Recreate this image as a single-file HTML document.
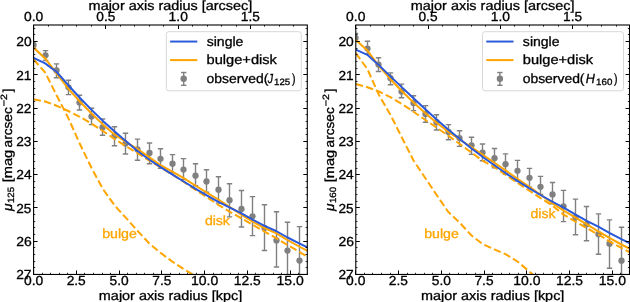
<!DOCTYPE html>
<html><head><meta charset="utf-8"><style>
html,body{margin:0;padding:0;background:#fff;}
svg{display:block;}
.gt{will-change:transform;}
text{font-family:"Liberation Sans",sans-serif;text-rendering:geometricPrecision;}
</style></head><body>
<div class="gt"><svg width="630" height="302" viewBox="0 0 630 302" font-family="Liberation Sans, sans-serif">
<rect width="630" height="302" fill="#fff"/>
<clipPath id="clip0"><rect x="33.6" y="25.0" width="273.7" height="249.45"/></clipPath>
<g clip-path="url(#clip0)" fill="none">
<line x1="33.50" y1="41.60" x2="33.50" y2="48.20" stroke="#808080" stroke-width="1.4"/>
<line x1="30.80" y1="41.60" x2="36.20" y2="41.60" stroke="#808080" stroke-width="1.4"/>
<line x1="30.80" y1="48.20" x2="36.20" y2="48.20" stroke="#808080" stroke-width="1.4"/>
<circle cx="33.50" cy="44.90" r="3.15" fill="#808080"/>
<line x1="45.50" y1="50.60" x2="45.50" y2="60.50" stroke="#808080" stroke-width="1.4"/>
<line x1="42.80" y1="50.60" x2="48.20" y2="50.60" stroke="#808080" stroke-width="1.4"/>
<line x1="42.80" y1="60.50" x2="48.20" y2="60.50" stroke="#808080" stroke-width="1.4"/>
<circle cx="45.50" cy="55.30" r="3.15" fill="#808080"/>
<line x1="56.50" y1="63.90" x2="56.50" y2="77.80" stroke="#808080" stroke-width="1.4"/>
<line x1="53.80" y1="63.90" x2="59.20" y2="63.90" stroke="#808080" stroke-width="1.4"/>
<line x1="53.80" y1="77.80" x2="59.20" y2="77.80" stroke="#808080" stroke-width="1.4"/>
<circle cx="56.50" cy="70.50" r="3.15" fill="#808080"/>
<line x1="68.50" y1="80.20" x2="68.50" y2="94.60" stroke="#808080" stroke-width="1.4"/>
<line x1="65.80" y1="80.20" x2="71.20" y2="80.20" stroke="#808080" stroke-width="1.4"/>
<line x1="65.80" y1="94.60" x2="71.20" y2="94.60" stroke="#808080" stroke-width="1.4"/>
<circle cx="68.50" cy="87.30" r="3.15" fill="#808080"/>
<line x1="79.50" y1="95.30" x2="79.50" y2="110.00" stroke="#808080" stroke-width="1.4"/>
<line x1="76.80" y1="95.30" x2="82.20" y2="95.30" stroke="#808080" stroke-width="1.4"/>
<line x1="76.80" y1="110.00" x2="82.20" y2="110.00" stroke="#808080" stroke-width="1.4"/>
<circle cx="79.50" cy="102.60" r="3.15" fill="#808080"/>
<line x1="91.50" y1="108.30" x2="91.50" y2="124.60" stroke="#808080" stroke-width="1.4"/>
<line x1="88.80" y1="108.30" x2="94.20" y2="108.30" stroke="#808080" stroke-width="1.4"/>
<line x1="88.80" y1="124.60" x2="94.20" y2="124.60" stroke="#808080" stroke-width="1.4"/>
<circle cx="91.50" cy="116.40" r="3.15" fill="#808080"/>
<line x1="102.50" y1="119.00" x2="102.50" y2="135.30" stroke="#808080" stroke-width="1.4"/>
<line x1="99.80" y1="119.00" x2="105.20" y2="119.00" stroke="#808080" stroke-width="1.4"/>
<line x1="99.80" y1="135.30" x2="105.20" y2="135.30" stroke="#808080" stroke-width="1.4"/>
<circle cx="102.50" cy="127.50" r="3.15" fill="#808080"/>
<line x1="114.50" y1="126.70" x2="114.50" y2="145.70" stroke="#808080" stroke-width="1.4"/>
<line x1="111.80" y1="126.70" x2="117.20" y2="126.70" stroke="#808080" stroke-width="1.4"/>
<line x1="111.80" y1="145.70" x2="117.20" y2="145.70" stroke="#808080" stroke-width="1.4"/>
<circle cx="114.50" cy="136.00" r="3.15" fill="#808080"/>
<line x1="125.50" y1="133.20" x2="125.50" y2="154.00" stroke="#808080" stroke-width="1.4"/>
<line x1="122.80" y1="133.20" x2="128.20" y2="133.20" stroke="#808080" stroke-width="1.4"/>
<line x1="122.80" y1="154.00" x2="128.20" y2="154.00" stroke="#808080" stroke-width="1.4"/>
<circle cx="125.50" cy="143.60" r="3.15" fill="#808080"/>
<line x1="137.50" y1="139.10" x2="137.50" y2="160.20" stroke="#808080" stroke-width="1.4"/>
<line x1="134.80" y1="139.10" x2="140.20" y2="139.10" stroke="#808080" stroke-width="1.4"/>
<line x1="134.80" y1="160.20" x2="140.20" y2="160.20" stroke="#808080" stroke-width="1.4"/>
<circle cx="137.50" cy="149.40" r="3.15" fill="#808080"/>
<line x1="149.50" y1="143.00" x2="149.50" y2="163.80" stroke="#808080" stroke-width="1.4"/>
<line x1="146.80" y1="143.00" x2="152.20" y2="143.00" stroke="#808080" stroke-width="1.4"/>
<line x1="146.80" y1="163.80" x2="152.20" y2="163.80" stroke="#808080" stroke-width="1.4"/>
<circle cx="149.50" cy="153.00" r="3.15" fill="#808080"/>
<line x1="160.50" y1="148.80" x2="160.50" y2="168.30" stroke="#808080" stroke-width="1.4"/>
<line x1="157.80" y1="148.80" x2="163.20" y2="148.80" stroke="#808080" stroke-width="1.4"/>
<line x1="157.80" y1="168.30" x2="163.20" y2="168.30" stroke="#808080" stroke-width="1.4"/>
<circle cx="160.50" cy="158.80" r="3.15" fill="#808080"/>
<line x1="172.50" y1="154.60" x2="172.50" y2="172.80" stroke="#808080" stroke-width="1.4"/>
<line x1="169.80" y1="154.60" x2="175.20" y2="154.60" stroke="#808080" stroke-width="1.4"/>
<line x1="169.80" y1="172.80" x2="175.20" y2="172.80" stroke="#808080" stroke-width="1.4"/>
<circle cx="172.50" cy="163.70" r="3.15" fill="#808080"/>
<line x1="183.50" y1="158.60" x2="183.50" y2="179.50" stroke="#808080" stroke-width="1.4"/>
<line x1="180.80" y1="158.60" x2="186.20" y2="158.60" stroke="#808080" stroke-width="1.4"/>
<line x1="180.80" y1="179.50" x2="186.20" y2="179.50" stroke="#808080" stroke-width="1.4"/>
<circle cx="183.50" cy="169.60" r="3.15" fill="#808080"/>
<line x1="195.50" y1="163.80" x2="195.50" y2="185.80" stroke="#808080" stroke-width="1.4"/>
<line x1="192.80" y1="163.80" x2="198.20" y2="163.80" stroke="#808080" stroke-width="1.4"/>
<line x1="192.80" y1="185.80" x2="198.20" y2="185.80" stroke="#808080" stroke-width="1.4"/>
<circle cx="195.50" cy="175.70" r="3.15" fill="#808080"/>
<line x1="206.50" y1="169.80" x2="206.50" y2="192.30" stroke="#808080" stroke-width="1.4"/>
<line x1="203.80" y1="169.80" x2="209.20" y2="169.80" stroke="#808080" stroke-width="1.4"/>
<line x1="203.80" y1="192.30" x2="209.20" y2="192.30" stroke="#808080" stroke-width="1.4"/>
<circle cx="206.50" cy="181.50" r="3.15" fill="#808080"/>
<line x1="218.50" y1="176.70" x2="218.50" y2="203.10" stroke="#808080" stroke-width="1.4"/>
<line x1="215.80" y1="176.70" x2="221.20" y2="176.70" stroke="#808080" stroke-width="1.4"/>
<line x1="215.80" y1="203.10" x2="221.20" y2="203.10" stroke="#808080" stroke-width="1.4"/>
<circle cx="218.50" cy="189.70" r="3.15" fill="#808080"/>
<line x1="229.50" y1="183.80" x2="229.50" y2="216.90" stroke="#808080" stroke-width="1.4"/>
<line x1="226.80" y1="183.80" x2="232.20" y2="183.80" stroke="#808080" stroke-width="1.4"/>
<line x1="226.80" y1="216.90" x2="232.20" y2="216.90" stroke="#808080" stroke-width="1.4"/>
<circle cx="229.50" cy="200.20" r="3.15" fill="#808080"/>
<line x1="241.50" y1="190.50" x2="241.50" y2="227.00" stroke="#808080" stroke-width="1.4"/>
<line x1="238.80" y1="190.50" x2="244.20" y2="190.50" stroke="#808080" stroke-width="1.4"/>
<line x1="238.80" y1="227.00" x2="244.20" y2="227.00" stroke="#808080" stroke-width="1.4"/>
<circle cx="241.50" cy="208.90" r="3.15" fill="#808080"/>
<line x1="252.50" y1="196.60" x2="252.50" y2="235.60" stroke="#808080" stroke-width="1.4"/>
<line x1="249.80" y1="196.60" x2="255.20" y2="196.60" stroke="#808080" stroke-width="1.4"/>
<line x1="249.80" y1="235.60" x2="255.20" y2="235.60" stroke="#808080" stroke-width="1.4"/>
<circle cx="252.50" cy="216.30" r="3.15" fill="#808080"/>
<line x1="264.50" y1="204.70" x2="264.50" y2="250.50" stroke="#808080" stroke-width="1.4"/>
<line x1="261.80" y1="204.70" x2="267.20" y2="204.70" stroke="#808080" stroke-width="1.4"/>
<line x1="261.80" y1="250.50" x2="267.20" y2="250.50" stroke="#808080" stroke-width="1.4"/>
<circle cx="264.50" cy="228.00" r="3.15" fill="#808080"/>
<line x1="276.50" y1="211.80" x2="276.50" y2="267.00" stroke="#808080" stroke-width="1.4"/>
<line x1="273.80" y1="211.80" x2="279.20" y2="211.80" stroke="#808080" stroke-width="1.4"/>
<line x1="273.80" y1="267.00" x2="279.20" y2="267.00" stroke="#808080" stroke-width="1.4"/>
<circle cx="276.50" cy="240.40" r="3.15" fill="#808080"/>
<line x1="287.50" y1="222.30" x2="287.50" y2="282.00" stroke="#808080" stroke-width="1.4"/>
<line x1="284.80" y1="222.30" x2="290.20" y2="222.30" stroke="#808080" stroke-width="1.4"/>
<line x1="284.80" y1="282.00" x2="290.20" y2="282.00" stroke="#808080" stroke-width="1.4"/>
<circle cx="287.50" cy="250.60" r="3.15" fill="#808080"/>
<line x1="299.50" y1="226.60" x2="299.50" y2="300.00" stroke="#808080" stroke-width="1.4"/>
<line x1="296.80" y1="226.60" x2="302.20" y2="226.60" stroke="#808080" stroke-width="1.4"/>
<line x1="296.80" y1="300.00" x2="302.20" y2="300.00" stroke="#808080" stroke-width="1.4"/>
<circle cx="299.50" cy="260.60" r="3.15" fill="#808080"/>
<path d="M33.60,59.50 L45.15,72.50 L56.69,95.50 L68.24,117.90 L79.79,143.80 L91.33,167.50 L102.88,189.00 L114.43,205.20 L125.97,217.90 L137.52,230.80 L149.07,243.20 L160.61,252.90 L172.16,261.50 L183.71,269.10 L195.25,276.00 L206.80,282.50 L218.35,287.20 L229.89,293.10 L241.44,298.70 L252.99,303.90 L264.53,308.70 L276.08,312.90 L287.63,316.50 L299.17,319.50 L310.72,321.80" stroke="#ffa500" stroke-width="2.0" stroke-dasharray="7.4,3.2" stroke-linecap="butt" stroke-linejoin="round"/>
<path d="M33.60,99.20 L45.15,101.50 L56.69,105.80 L68.24,111.00 L79.79,116.80 L91.33,123.50 L102.88,131.00 L114.43,138.80 L125.97,146.20 L137.52,153.20 L149.07,160.30 L160.61,167.40 L172.16,174.50 L183.71,182.00 L195.25,189.60 L206.80,197.20 L218.35,204.80 L229.89,211.80 L241.44,218.40 L252.99,225.00 L264.53,231.60 L276.08,238.10 L287.63,245.00 L299.17,251.80 L310.72,258.80" stroke="#ffa500" stroke-width="2.0" stroke-dasharray="7.4,3.2" stroke-linecap="butt" stroke-linejoin="round"/>
<path d="M33.60,47.60 L45.15,58.40 L56.69,73.30 L68.24,88.60 L79.79,101.50 L91.33,113.30 L102.88,124.40 L114.43,134.50 L125.97,141.80 L137.52,149.00 L149.07,157.10 L160.61,165.20 L172.16,171.60 L183.71,178.10 L195.25,185.50 L206.80,192.60 L218.35,199.50 L229.89,207.10 L241.44,214.70 L252.99,221.90 L264.53,228.00 L276.08,233.20 L287.63,240.10 L299.17,246.50 L310.72,252.70" stroke="#ffa500" stroke-width="2.0" stroke-linecap="butt" stroke-linejoin="round"/>
<path d="M33.60,57.90 L45.15,63.40 L56.69,72.00 L68.24,85.20 L79.79,97.80 L91.33,109.60 L102.88,120.90 L114.43,131.30 L125.97,141.30 L137.52,151.00 L149.07,159.50 L160.61,167.20 L172.16,174.40 L183.71,181.50 L195.25,188.60 L206.80,195.40 L218.35,201.90 L229.89,207.60 L241.44,213.30 L252.99,219.80 L264.53,225.80 L276.08,231.00 L287.63,237.50 L299.17,243.30 L310.72,249.00" stroke="#2a58da" stroke-width="2.0" stroke-linecap="butt" stroke-linejoin="round"/>
</g>
<text x="102.18" y="237.70" font-size="13.10" fill="#ffa500" stroke="#ffa500" stroke-width="0.3" textLength="34.70" lengthAdjust="spacingAndGlyphs">bulge</text>
<text x="204.91" y="224.70" font-size="13.10" fill="#ffa500" stroke="#ffa500" stroke-width="0.3" textLength="25.00" lengthAdjust="spacingAndGlyphs">disk</text>
<rect x="166.30" y="31.7" width="135.00" height="59.10" rx="2.5" fill="#fff" fill-opacity="0.8" stroke="#d8d8d8" stroke-width="1"/>
<line x1="170.10" y1="41.55" x2="197.30" y2="41.55" stroke="#2a58da" stroke-width="1.95"/>
<line x1="170.10" y1="60.10" x2="197.30" y2="60.10" stroke="#ffa500" stroke-width="2.0"/>
<line x1="183.70" y1="72.50" x2="183.70" y2="85.30" stroke="#808080" stroke-width="1.4"/>
<line x1="181.00" y1="72.50" x2="186.40" y2="72.50" stroke="#808080" stroke-width="1.4"/>
<line x1="181.00" y1="85.30" x2="186.40" y2="85.30" stroke="#808080" stroke-width="1.4"/>
<circle cx="183.70" cy="78.7" r="3.2" fill="#808080"/>
<text x="206.69" y="45.60" font-size="13.10" fill="#000" stroke="#000" stroke-width="0.3" textLength="36.68" lengthAdjust="spacingAndGlyphs">single</text>
<text x="206.59" y="64.05" font-size="13.10" fill="#000" stroke="#000" stroke-width="0.3" textLength="70.34" lengthAdjust="spacingAndGlyphs">bulge+disk</text>
<text x="206.51" y="82.50" font-size="13.10" fill="#000" stroke="#000" stroke-width="0.3" textLength="61.80" lengthAdjust="spacingAndGlyphs">observed(</text>
<text x="267.69" y="82.50" font-size="13.10" fill="#000" stroke="#000" stroke-width="0.3" textLength="5.27" lengthAdjust="spacingAndGlyphs" font-style="italic">J</text>
<text x="274.14" y="84.63" font-size="9.17" fill="#000" stroke="#000" stroke-width="0.3" textLength="16.12" lengthAdjust="spacingAndGlyphs">125</text>
<text x="292.11" y="82.50" font-size="13.10" fill="#000" stroke="#000" stroke-width="0.3" textLength="3.52" lengthAdjust="spacingAndGlyphs">)</text>
<rect x="33.6" y="25.0" width="273.70" height="249.45" fill="none" stroke="#000" stroke-width="1.1"/>
<line x1="33.50" y1="274.45" x2="33.50" y2="270.45" stroke="#000" stroke-width="1.0"/>
<line x1="42.50" y1="274.45" x2="42.50" y2="272.75" stroke="#000" stroke-width="0.8"/>
<line x1="50.50" y1="274.45" x2="50.50" y2="272.75" stroke="#000" stroke-width="0.8"/>
<line x1="59.50" y1="274.45" x2="59.50" y2="272.75" stroke="#000" stroke-width="0.8"/>
<line x1="67.50" y1="274.45" x2="67.50" y2="272.75" stroke="#000" stroke-width="0.8"/>
<line x1="76.50" y1="274.45" x2="76.50" y2="270.45" stroke="#000" stroke-width="1.0"/>
<line x1="84.50" y1="274.45" x2="84.50" y2="272.75" stroke="#000" stroke-width="0.8"/>
<line x1="93.50" y1="274.45" x2="93.50" y2="272.75" stroke="#000" stroke-width="0.8"/>
<line x1="102.50" y1="274.45" x2="102.50" y2="272.75" stroke="#000" stroke-width="0.8"/>
<line x1="110.50" y1="274.45" x2="110.50" y2="272.75" stroke="#000" stroke-width="0.8"/>
<line x1="119.50" y1="274.45" x2="119.50" y2="270.45" stroke="#000" stroke-width="1.0"/>
<line x1="127.50" y1="274.45" x2="127.50" y2="272.75" stroke="#000" stroke-width="0.8"/>
<line x1="136.50" y1="274.45" x2="136.50" y2="272.75" stroke="#000" stroke-width="0.8"/>
<line x1="144.50" y1="274.45" x2="144.50" y2="272.75" stroke="#000" stroke-width="0.8"/>
<line x1="153.50" y1="274.45" x2="153.50" y2="272.75" stroke="#000" stroke-width="0.8"/>
<line x1="161.50" y1="274.45" x2="161.50" y2="270.45" stroke="#000" stroke-width="1.0"/>
<line x1="170.50" y1="274.45" x2="170.50" y2="272.75" stroke="#000" stroke-width="0.8"/>
<line x1="179.50" y1="274.45" x2="179.50" y2="272.75" stroke="#000" stroke-width="0.8"/>
<line x1="187.50" y1="274.45" x2="187.50" y2="272.75" stroke="#000" stroke-width="0.8"/>
<line x1="196.50" y1="274.45" x2="196.50" y2="272.75" stroke="#000" stroke-width="0.8"/>
<line x1="204.50" y1="274.45" x2="204.50" y2="270.45" stroke="#000" stroke-width="1.0"/>
<line x1="213.50" y1="274.45" x2="213.50" y2="272.75" stroke="#000" stroke-width="0.8"/>
<line x1="221.50" y1="274.45" x2="221.50" y2="272.75" stroke="#000" stroke-width="0.8"/>
<line x1="230.50" y1="274.45" x2="230.50" y2="272.75" stroke="#000" stroke-width="0.8"/>
<line x1="238.50" y1="274.45" x2="238.50" y2="272.75" stroke="#000" stroke-width="0.8"/>
<line x1="247.50" y1="274.45" x2="247.50" y2="270.45" stroke="#000" stroke-width="1.0"/>
<line x1="255.50" y1="274.45" x2="255.50" y2="272.75" stroke="#000" stroke-width="0.8"/>
<line x1="264.50" y1="274.45" x2="264.50" y2="272.75" stroke="#000" stroke-width="0.8"/>
<line x1="273.50" y1="274.45" x2="273.50" y2="272.75" stroke="#000" stroke-width="0.8"/>
<line x1="281.50" y1="274.45" x2="281.50" y2="272.75" stroke="#000" stroke-width="0.8"/>
<line x1="290.50" y1="274.45" x2="290.50" y2="270.45" stroke="#000" stroke-width="1.0"/>
<line x1="298.50" y1="274.45" x2="298.50" y2="272.75" stroke="#000" stroke-width="0.8"/>
<line x1="307.50" y1="274.45" x2="307.50" y2="272.75" stroke="#000" stroke-width="0.8"/>
<line x1="33.50" y1="25.00" x2="33.50" y2="29.00" stroke="#000" stroke-width="1.0"/>
<line x1="48.50" y1="25.00" x2="48.50" y2="26.70" stroke="#000" stroke-width="0.8"/>
<line x1="62.50" y1="25.00" x2="62.50" y2="26.70" stroke="#000" stroke-width="0.8"/>
<line x1="76.50" y1="25.00" x2="76.50" y2="26.70" stroke="#000" stroke-width="0.8"/>
<line x1="91.50" y1="25.00" x2="91.50" y2="26.70" stroke="#000" stroke-width="0.8"/>
<line x1="105.50" y1="25.00" x2="105.50" y2="29.00" stroke="#000" stroke-width="1.0"/>
<line x1="120.50" y1="25.00" x2="120.50" y2="26.70" stroke="#000" stroke-width="0.8"/>
<line x1="134.50" y1="25.00" x2="134.50" y2="26.70" stroke="#000" stroke-width="0.8"/>
<line x1="149.50" y1="25.00" x2="149.50" y2="26.70" stroke="#000" stroke-width="0.8"/>
<line x1="163.50" y1="25.00" x2="163.50" y2="26.70" stroke="#000" stroke-width="0.8"/>
<line x1="178.50" y1="25.00" x2="178.50" y2="29.00" stroke="#000" stroke-width="1.0"/>
<line x1="192.50" y1="25.00" x2="192.50" y2="26.70" stroke="#000" stroke-width="0.8"/>
<line x1="207.50" y1="25.00" x2="207.50" y2="26.70" stroke="#000" stroke-width="0.8"/>
<line x1="221.50" y1="25.00" x2="221.50" y2="26.70" stroke="#000" stroke-width="0.8"/>
<line x1="236.50" y1="25.00" x2="236.50" y2="26.70" stroke="#000" stroke-width="0.8"/>
<line x1="250.50" y1="25.00" x2="250.50" y2="29.00" stroke="#000" stroke-width="1.0"/>
<line x1="264.50" y1="25.00" x2="264.50" y2="26.70" stroke="#000" stroke-width="0.8"/>
<line x1="279.50" y1="25.00" x2="279.50" y2="26.70" stroke="#000" stroke-width="0.8"/>
<line x1="293.50" y1="25.00" x2="293.50" y2="26.70" stroke="#000" stroke-width="0.8"/>
<line x1="33.60" y1="28.50" x2="35.30" y2="28.50" stroke="#000" stroke-width="0.8"/>
<line x1="307.30" y1="28.50" x2="305.60" y2="28.50" stroke="#000" stroke-width="0.8"/>
<line x1="33.60" y1="34.50" x2="35.30" y2="34.50" stroke="#000" stroke-width="0.8"/>
<line x1="307.30" y1="34.50" x2="305.60" y2="34.50" stroke="#000" stroke-width="0.8"/>
<line x1="33.60" y1="41.50" x2="37.60" y2="41.50" stroke="#000" stroke-width="1.0"/>
<line x1="307.30" y1="41.50" x2="303.30" y2="41.50" stroke="#000" stroke-width="1.0"/>
<line x1="33.60" y1="48.50" x2="35.30" y2="48.50" stroke="#000" stroke-width="0.8"/>
<line x1="307.30" y1="48.50" x2="305.60" y2="48.50" stroke="#000" stroke-width="0.8"/>
<line x1="33.60" y1="54.50" x2="35.30" y2="54.50" stroke="#000" stroke-width="0.8"/>
<line x1="307.30" y1="54.50" x2="305.60" y2="54.50" stroke="#000" stroke-width="0.8"/>
<line x1="33.60" y1="61.50" x2="35.30" y2="61.50" stroke="#000" stroke-width="0.8"/>
<line x1="307.30" y1="61.50" x2="305.60" y2="61.50" stroke="#000" stroke-width="0.8"/>
<line x1="33.60" y1="68.50" x2="35.30" y2="68.50" stroke="#000" stroke-width="0.8"/>
<line x1="307.30" y1="68.50" x2="305.60" y2="68.50" stroke="#000" stroke-width="0.8"/>
<line x1="33.60" y1="74.50" x2="37.60" y2="74.50" stroke="#000" stroke-width="1.0"/>
<line x1="307.30" y1="74.50" x2="303.30" y2="74.50" stroke="#000" stroke-width="1.0"/>
<line x1="33.60" y1="81.50" x2="35.30" y2="81.50" stroke="#000" stroke-width="0.8"/>
<line x1="307.30" y1="81.50" x2="305.60" y2="81.50" stroke="#000" stroke-width="0.8"/>
<line x1="33.60" y1="88.50" x2="35.30" y2="88.50" stroke="#000" stroke-width="0.8"/>
<line x1="307.30" y1="88.50" x2="305.60" y2="88.50" stroke="#000" stroke-width="0.8"/>
<line x1="33.60" y1="94.50" x2="35.30" y2="94.50" stroke="#000" stroke-width="0.8"/>
<line x1="307.30" y1="94.50" x2="305.60" y2="94.50" stroke="#000" stroke-width="0.8"/>
<line x1="33.60" y1="101.50" x2="35.30" y2="101.50" stroke="#000" stroke-width="0.8"/>
<line x1="307.30" y1="101.50" x2="305.60" y2="101.50" stroke="#000" stroke-width="0.8"/>
<line x1="33.60" y1="108.50" x2="37.60" y2="108.50" stroke="#000" stroke-width="1.0"/>
<line x1="307.30" y1="108.50" x2="303.30" y2="108.50" stroke="#000" stroke-width="1.0"/>
<line x1="33.60" y1="114.50" x2="35.30" y2="114.50" stroke="#000" stroke-width="0.8"/>
<line x1="307.30" y1="114.50" x2="305.60" y2="114.50" stroke="#000" stroke-width="0.8"/>
<line x1="33.60" y1="121.50" x2="35.30" y2="121.50" stroke="#000" stroke-width="0.8"/>
<line x1="307.30" y1="121.50" x2="305.60" y2="121.50" stroke="#000" stroke-width="0.8"/>
<line x1="33.60" y1="128.50" x2="35.30" y2="128.50" stroke="#000" stroke-width="0.8"/>
<line x1="307.30" y1="128.50" x2="305.60" y2="128.50" stroke="#000" stroke-width="0.8"/>
<line x1="33.60" y1="134.50" x2="35.30" y2="134.50" stroke="#000" stroke-width="0.8"/>
<line x1="307.30" y1="134.50" x2="305.60" y2="134.50" stroke="#000" stroke-width="0.8"/>
<line x1="33.60" y1="141.50" x2="37.60" y2="141.50" stroke="#000" stroke-width="1.0"/>
<line x1="307.30" y1="141.50" x2="303.30" y2="141.50" stroke="#000" stroke-width="1.0"/>
<line x1="33.60" y1="148.50" x2="35.30" y2="148.50" stroke="#000" stroke-width="0.8"/>
<line x1="307.30" y1="148.50" x2="305.60" y2="148.50" stroke="#000" stroke-width="0.8"/>
<line x1="33.60" y1="154.50" x2="35.30" y2="154.50" stroke="#000" stroke-width="0.8"/>
<line x1="307.30" y1="154.50" x2="305.60" y2="154.50" stroke="#000" stroke-width="0.8"/>
<line x1="33.60" y1="161.50" x2="35.30" y2="161.50" stroke="#000" stroke-width="0.8"/>
<line x1="307.30" y1="161.50" x2="305.60" y2="161.50" stroke="#000" stroke-width="0.8"/>
<line x1="33.60" y1="168.50" x2="35.30" y2="168.50" stroke="#000" stroke-width="0.8"/>
<line x1="307.30" y1="168.50" x2="305.60" y2="168.50" stroke="#000" stroke-width="0.8"/>
<line x1="33.60" y1="174.50" x2="37.60" y2="174.50" stroke="#000" stroke-width="1.0"/>
<line x1="307.30" y1="174.50" x2="303.30" y2="174.50" stroke="#000" stroke-width="1.0"/>
<line x1="33.60" y1="181.50" x2="35.30" y2="181.50" stroke="#000" stroke-width="0.8"/>
<line x1="307.30" y1="181.50" x2="305.60" y2="181.50" stroke="#000" stroke-width="0.8"/>
<line x1="33.60" y1="187.50" x2="35.30" y2="187.50" stroke="#000" stroke-width="0.8"/>
<line x1="307.30" y1="187.50" x2="305.60" y2="187.50" stroke="#000" stroke-width="0.8"/>
<line x1="33.60" y1="194.50" x2="35.30" y2="194.50" stroke="#000" stroke-width="0.8"/>
<line x1="307.30" y1="194.50" x2="305.60" y2="194.50" stroke="#000" stroke-width="0.8"/>
<line x1="33.60" y1="201.50" x2="35.30" y2="201.50" stroke="#000" stroke-width="0.8"/>
<line x1="307.30" y1="201.50" x2="305.60" y2="201.50" stroke="#000" stroke-width="0.8"/>
<line x1="33.60" y1="207.50" x2="37.60" y2="207.50" stroke="#000" stroke-width="1.0"/>
<line x1="307.30" y1="207.50" x2="303.30" y2="207.50" stroke="#000" stroke-width="1.0"/>
<line x1="33.60" y1="214.50" x2="35.30" y2="214.50" stroke="#000" stroke-width="0.8"/>
<line x1="307.30" y1="214.50" x2="305.60" y2="214.50" stroke="#000" stroke-width="0.8"/>
<line x1="33.60" y1="221.50" x2="35.30" y2="221.50" stroke="#000" stroke-width="0.8"/>
<line x1="307.30" y1="221.50" x2="305.60" y2="221.50" stroke="#000" stroke-width="0.8"/>
<line x1="33.60" y1="227.50" x2="35.30" y2="227.50" stroke="#000" stroke-width="0.8"/>
<line x1="307.30" y1="227.50" x2="305.60" y2="227.50" stroke="#000" stroke-width="0.8"/>
<line x1="33.60" y1="234.50" x2="35.30" y2="234.50" stroke="#000" stroke-width="0.8"/>
<line x1="307.30" y1="234.50" x2="305.60" y2="234.50" stroke="#000" stroke-width="0.8"/>
<line x1="33.60" y1="241.50" x2="37.60" y2="241.50" stroke="#000" stroke-width="1.0"/>
<line x1="307.30" y1="241.50" x2="303.30" y2="241.50" stroke="#000" stroke-width="1.0"/>
<line x1="33.60" y1="247.50" x2="35.30" y2="247.50" stroke="#000" stroke-width="0.8"/>
<line x1="307.30" y1="247.50" x2="305.60" y2="247.50" stroke="#000" stroke-width="0.8"/>
<line x1="33.60" y1="254.50" x2="35.30" y2="254.50" stroke="#000" stroke-width="0.8"/>
<line x1="307.30" y1="254.50" x2="305.60" y2="254.50" stroke="#000" stroke-width="0.8"/>
<line x1="33.60" y1="261.50" x2="35.30" y2="261.50" stroke="#000" stroke-width="0.8"/>
<line x1="307.30" y1="261.50" x2="305.60" y2="261.50" stroke="#000" stroke-width="0.8"/>
<line x1="33.60" y1="267.50" x2="35.30" y2="267.50" stroke="#000" stroke-width="0.8"/>
<line x1="307.30" y1="267.50" x2="305.60" y2="267.50" stroke="#000" stroke-width="0.8"/>
<line x1="33.60" y1="274.50" x2="37.60" y2="274.50" stroke="#000" stroke-width="1.0"/>
<line x1="307.30" y1="274.50" x2="303.30" y2="274.50" stroke="#000" stroke-width="1.0"/>
<text x="16.21" y="46.38" font-size="13.10" fill="#000" stroke="#000" stroke-width="0.3" textLength="15.40" lengthAdjust="spacingAndGlyphs">20</text>
<text x="16.22" y="79.64" font-size="13.10" fill="#000" stroke="#000" stroke-width="0.3" textLength="15.19" lengthAdjust="spacingAndGlyphs">21</text>
<text x="16.23" y="112.90" font-size="13.10" fill="#000" stroke="#000" stroke-width="0.3" textLength="15.10" lengthAdjust="spacingAndGlyphs">22</text>
<text x="16.22" y="146.16" font-size="13.10" fill="#000" stroke="#000" stroke-width="0.3" textLength="15.28" lengthAdjust="spacingAndGlyphs">23</text>
<text x="16.21" y="179.42" font-size="13.10" fill="#000" stroke="#000" stroke-width="0.3" textLength="15.39" lengthAdjust="spacingAndGlyphs">24</text>
<text x="16.22" y="212.68" font-size="13.10" fill="#000" stroke="#000" stroke-width="0.3" textLength="15.16" lengthAdjust="spacingAndGlyphs">25</text>
<text x="16.21" y="245.94" font-size="13.10" fill="#000" stroke="#000" stroke-width="0.3" textLength="15.52" lengthAdjust="spacingAndGlyphs">26</text>
<text x="16.22" y="279.20" font-size="13.10" fill="#000" stroke="#000" stroke-width="0.3" textLength="15.31" lengthAdjust="spacingAndGlyphs">27</text>
<text x="23.94" y="285.30" font-size="13.10" fill="#000" stroke="#000" stroke-width="0.3" textLength="19.31" lengthAdjust="spacingAndGlyphs">0.0</text>
<text x="66.65" y="285.30" font-size="13.10" fill="#000" stroke="#000" stroke-width="0.3" textLength="19.14" lengthAdjust="spacingAndGlyphs">2.5</text>
<text x="109.60" y="285.30" font-size="13.10" fill="#000" stroke="#000" stroke-width="0.3" textLength="19.18" lengthAdjust="spacingAndGlyphs">5.0</text>
<text x="152.28" y="285.30" font-size="13.10" fill="#000" stroke="#000" stroke-width="0.3" textLength="19.04" lengthAdjust="spacingAndGlyphs">7.5</text>
<text x="191.05" y="285.30" font-size="13.10" fill="#000" stroke="#000" stroke-width="0.3" textLength="27.24" lengthAdjust="spacingAndGlyphs">10.0</text>
<text x="233.83" y="285.30" font-size="13.10" fill="#000" stroke="#000" stroke-width="0.3" textLength="27.01" lengthAdjust="spacingAndGlyphs">12.5</text>
<text x="276.58" y="285.30" font-size="13.10" fill="#000" stroke="#000" stroke-width="0.3" textLength="27.24" lengthAdjust="spacingAndGlyphs">15.0</text>
<text x="23.94" y="20.90" font-size="13.10" fill="#000" stroke="#000" stroke-width="0.3" textLength="19.31" lengthAdjust="spacingAndGlyphs">0.0</text>
<text x="96.25" y="20.90" font-size="13.10" fill="#000" stroke="#000" stroke-width="0.3" textLength="19.07" lengthAdjust="spacingAndGlyphs">0.5</text>
<text x="168.58" y="20.90" font-size="13.10" fill="#000" stroke="#000" stroke-width="0.3" textLength="19.27" lengthAdjust="spacingAndGlyphs">1.0</text>
<text x="240.89" y="20.90" font-size="13.10" fill="#000" stroke="#000" stroke-width="0.3" textLength="19.03" lengthAdjust="spacingAndGlyphs">1.5</text>
<text x="98.88" y="299.60" font-size="13.10" fill="#000" stroke="#000" stroke-width="0.3" textLength="143.27" lengthAdjust="spacingAndGlyphs">major axis radius [kpc]</text>
<text x="88.63" y="9.60" font-size="13.10" fill="#000" stroke="#000" stroke-width="0.3" textLength="163.58" lengthAdjust="spacingAndGlyphs">major axis radius [arcsec]</text>
<g transform="translate(11.60,211.22) rotate(-90)">
<text x="0.12" y="0.00" font-size="13.10" fill="#000" stroke="#000" stroke-width="0.3" textLength="7.50" lengthAdjust="spacingAndGlyphs" font-style="italic">&#956;</text>
<text x="8.18" y="2.13" font-size="9.17" fill="#000" stroke="#000" stroke-width="0.3" textLength="16.12" lengthAdjust="spacingAndGlyphs">125</text>
<text x="29.01" y="0.00" font-size="13.10" fill="#000" stroke="#000" stroke-width="0.3" textLength="32.42" lengthAdjust="spacingAndGlyphs">[mag</text>
<text x="63.83" y="0.00" font-size="13.10" fill="#000" stroke="#000" stroke-width="0.3" textLength="40.16" lengthAdjust="spacingAndGlyphs">arcsec</text>
<text x="104.93" y="-4.98" font-size="9.17" fill="#000" stroke="#000" stroke-width="0.3" textLength="12.16" lengthAdjust="spacingAndGlyphs">&#8722;2</text>
<text x="118.90" y="0.00" font-size="13.10" fill="#000" stroke="#000" stroke-width="0.3" textLength="3.62" lengthAdjust="spacingAndGlyphs">]</text>
</g>
<clipPath id="clip322"><rect x="355.8" y="25.0" width="273.7" height="249.45"/></clipPath>
<g clip-path="url(#clip322)" fill="none">
<line x1="355.50" y1="33.50" x2="355.50" y2="41.00" stroke="#808080" stroke-width="1.4"/>
<line x1="352.80" y1="33.50" x2="358.20" y2="33.50" stroke="#808080" stroke-width="1.4"/>
<line x1="352.80" y1="41.00" x2="358.20" y2="41.00" stroke="#808080" stroke-width="1.4"/>
<circle cx="355.50" cy="38.00" r="3.15" fill="#808080"/>
<line x1="367.50" y1="41.20" x2="367.50" y2="53.80" stroke="#808080" stroke-width="1.4"/>
<line x1="364.80" y1="41.20" x2="370.20" y2="41.20" stroke="#808080" stroke-width="1.4"/>
<line x1="364.80" y1="53.80" x2="370.20" y2="53.80" stroke="#808080" stroke-width="1.4"/>
<circle cx="367.50" cy="48.60" r="3.15" fill="#808080"/>
<line x1="378.50" y1="57.80" x2="378.50" y2="71.50" stroke="#808080" stroke-width="1.4"/>
<line x1="375.80" y1="57.80" x2="381.20" y2="57.80" stroke="#808080" stroke-width="1.4"/>
<line x1="375.80" y1="71.50" x2="381.20" y2="71.50" stroke="#808080" stroke-width="1.4"/>
<circle cx="378.50" cy="64.60" r="3.15" fill="#808080"/>
<line x1="390.50" y1="72.90" x2="390.50" y2="84.80" stroke="#808080" stroke-width="1.4"/>
<line x1="387.80" y1="72.90" x2="393.20" y2="72.90" stroke="#808080" stroke-width="1.4"/>
<line x1="387.80" y1="84.80" x2="393.20" y2="84.80" stroke="#808080" stroke-width="1.4"/>
<circle cx="390.50" cy="78.20" r="3.15" fill="#808080"/>
<line x1="401.50" y1="84.10" x2="401.50" y2="97.80" stroke="#808080" stroke-width="1.4"/>
<line x1="398.80" y1="84.10" x2="404.20" y2="84.10" stroke="#808080" stroke-width="1.4"/>
<line x1="398.80" y1="97.80" x2="404.20" y2="97.80" stroke="#808080" stroke-width="1.4"/>
<circle cx="401.50" cy="91.60" r="3.15" fill="#808080"/>
<line x1="413.50" y1="95.70" x2="413.50" y2="110.60" stroke="#808080" stroke-width="1.4"/>
<line x1="410.80" y1="95.70" x2="416.20" y2="95.70" stroke="#808080" stroke-width="1.4"/>
<line x1="410.80" y1="110.60" x2="416.20" y2="110.60" stroke="#808080" stroke-width="1.4"/>
<circle cx="413.50" cy="103.10" r="3.15" fill="#808080"/>
<line x1="425.50" y1="105.60" x2="425.50" y2="122.20" stroke="#808080" stroke-width="1.4"/>
<line x1="422.80" y1="105.60" x2="428.20" y2="105.60" stroke="#808080" stroke-width="1.4"/>
<line x1="422.80" y1="122.20" x2="428.20" y2="122.20" stroke="#808080" stroke-width="1.4"/>
<circle cx="425.50" cy="113.90" r="3.15" fill="#808080"/>
<line x1="436.50" y1="114.70" x2="436.50" y2="130.00" stroke="#808080" stroke-width="1.4"/>
<line x1="433.80" y1="114.70" x2="439.20" y2="114.70" stroke="#808080" stroke-width="1.4"/>
<line x1="433.80" y1="130.00" x2="439.20" y2="130.00" stroke="#808080" stroke-width="1.4"/>
<circle cx="436.50" cy="122.20" r="3.15" fill="#808080"/>
<line x1="448.50" y1="124.60" x2="448.50" y2="139.80" stroke="#808080" stroke-width="1.4"/>
<line x1="445.80" y1="124.60" x2="451.20" y2="124.60" stroke="#808080" stroke-width="1.4"/>
<line x1="445.80" y1="139.80" x2="451.20" y2="139.80" stroke="#808080" stroke-width="1.4"/>
<circle cx="448.50" cy="131.90" r="3.15" fill="#808080"/>
<line x1="459.50" y1="130.70" x2="459.50" y2="146.40" stroke="#808080" stroke-width="1.4"/>
<line x1="456.80" y1="130.70" x2="462.20" y2="130.70" stroke="#808080" stroke-width="1.4"/>
<line x1="456.80" y1="146.40" x2="462.20" y2="146.40" stroke="#808080" stroke-width="1.4"/>
<circle cx="459.50" cy="138.10" r="3.15" fill="#808080"/>
<line x1="471.50" y1="137.30" x2="471.50" y2="154.40" stroke="#808080" stroke-width="1.4"/>
<line x1="468.80" y1="137.30" x2="474.20" y2="137.30" stroke="#808080" stroke-width="1.4"/>
<line x1="468.80" y1="154.40" x2="474.20" y2="154.40" stroke="#808080" stroke-width="1.4"/>
<circle cx="471.50" cy="145.30" r="3.15" fill="#808080"/>
<line x1="482.50" y1="144.00" x2="482.50" y2="160.80" stroke="#808080" stroke-width="1.4"/>
<line x1="479.80" y1="144.00" x2="485.20" y2="144.00" stroke="#808080" stroke-width="1.4"/>
<line x1="479.80" y1="160.80" x2="485.20" y2="160.80" stroke="#808080" stroke-width="1.4"/>
<circle cx="482.50" cy="152.60" r="3.15" fill="#808080"/>
<line x1="494.50" y1="148.50" x2="494.50" y2="167.80" stroke="#808080" stroke-width="1.4"/>
<line x1="491.80" y1="148.50" x2="497.20" y2="148.50" stroke="#808080" stroke-width="1.4"/>
<line x1="491.80" y1="167.80" x2="497.20" y2="167.80" stroke="#808080" stroke-width="1.4"/>
<circle cx="494.50" cy="158.20" r="3.15" fill="#808080"/>
<line x1="505.50" y1="153.90" x2="505.50" y2="174.30" stroke="#808080" stroke-width="1.4"/>
<line x1="502.80" y1="153.90" x2="508.20" y2="153.90" stroke="#808080" stroke-width="1.4"/>
<line x1="502.80" y1="174.30" x2="508.20" y2="174.30" stroke="#808080" stroke-width="1.4"/>
<circle cx="505.50" cy="164.20" r="3.15" fill="#808080"/>
<line x1="517.50" y1="160.40" x2="517.50" y2="181.10" stroke="#808080" stroke-width="1.4"/>
<line x1="514.80" y1="160.40" x2="520.20" y2="160.40" stroke="#808080" stroke-width="1.4"/>
<line x1="514.80" y1="181.10" x2="520.20" y2="181.10" stroke="#808080" stroke-width="1.4"/>
<circle cx="517.50" cy="170.80" r="3.15" fill="#808080"/>
<line x1="529.50" y1="168.40" x2="529.50" y2="187.10" stroke="#808080" stroke-width="1.4"/>
<line x1="526.80" y1="168.40" x2="532.20" y2="168.40" stroke="#808080" stroke-width="1.4"/>
<line x1="526.80" y1="187.10" x2="532.20" y2="187.10" stroke="#808080" stroke-width="1.4"/>
<circle cx="529.50" cy="177.80" r="3.15" fill="#808080"/>
<line x1="540.50" y1="176.40" x2="540.50" y2="194.40" stroke="#808080" stroke-width="1.4"/>
<line x1="537.80" y1="176.40" x2="543.20" y2="176.40" stroke="#808080" stroke-width="1.4"/>
<line x1="537.80" y1="194.40" x2="543.20" y2="194.40" stroke="#808080" stroke-width="1.4"/>
<circle cx="540.50" cy="186.80" r="3.15" fill="#808080"/>
<line x1="552.50" y1="182.50" x2="552.50" y2="203.70" stroke="#808080" stroke-width="1.4"/>
<line x1="549.80" y1="182.50" x2="555.20" y2="182.50" stroke="#808080" stroke-width="1.4"/>
<line x1="549.80" y1="203.70" x2="555.20" y2="203.70" stroke="#808080" stroke-width="1.4"/>
<circle cx="552.50" cy="194.40" r="3.15" fill="#808080"/>
<line x1="563.50" y1="190.40" x2="563.50" y2="221.60" stroke="#808080" stroke-width="1.4"/>
<line x1="560.80" y1="190.40" x2="566.20" y2="190.40" stroke="#808080" stroke-width="1.4"/>
<line x1="560.80" y1="221.60" x2="566.20" y2="221.60" stroke="#808080" stroke-width="1.4"/>
<circle cx="563.50" cy="206.30" r="3.15" fill="#808080"/>
<line x1="575.50" y1="199.10" x2="575.50" y2="234.80" stroke="#808080" stroke-width="1.4"/>
<line x1="572.80" y1="199.10" x2="578.20" y2="199.10" stroke="#808080" stroke-width="1.4"/>
<line x1="572.80" y1="234.80" x2="578.20" y2="234.80" stroke="#808080" stroke-width="1.4"/>
<circle cx="575.50" cy="217.50" r="3.15" fill="#808080"/>
<line x1="586.50" y1="206.50" x2="586.50" y2="240.70" stroke="#808080" stroke-width="1.4"/>
<line x1="583.80" y1="206.50" x2="589.20" y2="206.50" stroke="#808080" stroke-width="1.4"/>
<line x1="583.80" y1="240.70" x2="589.20" y2="240.70" stroke="#808080" stroke-width="1.4"/>
<circle cx="586.50" cy="224.30" r="3.15" fill="#808080"/>
<line x1="598.50" y1="213.90" x2="598.50" y2="254.20" stroke="#808080" stroke-width="1.4"/>
<line x1="595.80" y1="213.90" x2="601.20" y2="213.90" stroke="#808080" stroke-width="1.4"/>
<line x1="595.80" y1="254.20" x2="601.20" y2="254.20" stroke="#808080" stroke-width="1.4"/>
<circle cx="598.50" cy="234.20" r="3.15" fill="#808080"/>
<line x1="609.50" y1="219.90" x2="609.50" y2="268.20" stroke="#808080" stroke-width="1.4"/>
<line x1="606.80" y1="219.90" x2="612.20" y2="219.90" stroke="#808080" stroke-width="1.4"/>
<line x1="606.80" y1="268.20" x2="612.20" y2="268.20" stroke="#808080" stroke-width="1.4"/>
<circle cx="609.50" cy="243.70" r="3.15" fill="#808080"/>
<line x1="621.50" y1="227.30" x2="621.50" y2="300.00" stroke="#808080" stroke-width="1.4"/>
<line x1="618.80" y1="227.30" x2="624.20" y2="227.30" stroke="#808080" stroke-width="1.4"/>
<line x1="618.80" y1="300.00" x2="624.20" y2="300.00" stroke="#808080" stroke-width="1.4"/>
<circle cx="621.50" cy="260.70" r="3.15" fill="#808080"/>
<path d="M355.80,53.20 L367.35,69.00 L378.89,94.90 L390.44,114.80 L401.99,137.70 L413.53,160.50 L425.08,177.70 L436.63,195.00 L448.17,211.80 L459.72,222.70 L471.27,235.30 L482.81,244.10 L494.36,249.30 L505.91,254.40 L517.45,261.50 L529.00,271.20 L540.55,281.20 L552.09,291.00 L563.64,300.60 L575.19,310.00 L586.73,319.20 L598.28,328.30 L609.83,337.30 L621.37,346.10 L632.92,354.80" stroke="#ffa500" stroke-width="2.0" stroke-dasharray="7.4,3.2" stroke-linecap="butt" stroke-linejoin="round"/>
<path d="M355.80,84.00 L367.35,87.20 L378.89,91.50 L390.44,97.20 L401.99,104.00 L413.53,111.70 L425.08,119.80 L436.63,127.60 L448.17,135.60 L459.72,144.00 L471.27,152.40 L482.81,160.90 L494.36,167.10 L505.91,175.00 L517.45,182.80 L529.00,190.50 L540.55,198.10 L552.09,205.40 L563.64,214.60 L575.19,221.50 L586.73,228.10 L598.28,234.50 L609.83,241.60 L621.37,247.90 L632.92,254.00" stroke="#ffa500" stroke-width="2.0" stroke-dasharray="7.4,3.2" stroke-linecap="butt" stroke-linejoin="round"/>
<path d="M355.80,39.90 L367.35,50.60 L378.89,65.80 L390.44,79.20 L401.99,91.20 L413.53,102.50 L425.08,113.10 L436.63,122.80 L448.17,131.60 L459.72,139.50 L471.27,147.10 L482.81,154.80 L494.36,162.80 L505.91,170.70 L517.45,178.70 L529.00,186.60 L540.55,194.70 L552.09,203.00 L563.64,210.70 L575.19,217.30 L586.73,224.40 L598.28,231.30 L609.83,238.20 L621.37,244.50 L632.92,250.40" stroke="#ffa500" stroke-width="2.0" stroke-linecap="butt" stroke-linejoin="round"/>
<path d="M355.80,49.60 L367.35,54.80 L378.89,65.30 L390.44,76.40 L401.99,87.40 L413.53,98.30 L425.08,109.10 L436.63,119.50 L448.17,129.40 L459.72,139.00 L471.27,148.30 L482.81,157.00 L494.36,165.30 L505.91,173.30 L517.45,180.90 L529.00,188.20 L540.55,195.00 L552.09,201.50 L563.64,207.70 L575.19,214.40 L586.73,220.90 L598.28,226.60 L609.83,233.10 L621.37,239.20 L632.92,244.90" stroke="#2a58da" stroke-width="2.0" stroke-linecap="butt" stroke-linejoin="round"/>
</g>
<text x="424.18" y="237.70" font-size="13.10" fill="#ffa500" stroke="#ffa500" stroke-width="0.3" textLength="34.70" lengthAdjust="spacingAndGlyphs">bulge</text>
<text x="530.51" y="217.80" font-size="13.10" fill="#ffa500" stroke="#ffa500" stroke-width="0.3" textLength="25.00" lengthAdjust="spacingAndGlyphs">disk</text>
<rect x="482.50" y="31.7" width="141.00" height="59.10" rx="2.5" fill="#fff" fill-opacity="0.8" stroke="#d8d8d8" stroke-width="1"/>
<line x1="486.30" y1="41.55" x2="513.50" y2="41.55" stroke="#2a58da" stroke-width="1.95"/>
<line x1="486.30" y1="60.10" x2="513.50" y2="60.10" stroke="#ffa500" stroke-width="2.0"/>
<line x1="499.90" y1="72.50" x2="499.90" y2="85.30" stroke="#808080" stroke-width="1.4"/>
<line x1="497.20" y1="72.50" x2="502.60" y2="72.50" stroke="#808080" stroke-width="1.4"/>
<line x1="497.20" y1="85.30" x2="502.60" y2="85.30" stroke="#808080" stroke-width="1.4"/>
<circle cx="499.90" cy="78.7" r="3.2" fill="#808080"/>
<text x="522.89" y="45.60" font-size="13.10" fill="#000" stroke="#000" stroke-width="0.3" textLength="36.68" lengthAdjust="spacingAndGlyphs">single</text>
<text x="522.79" y="64.05" font-size="13.10" fill="#000" stroke="#000" stroke-width="0.3" textLength="70.34" lengthAdjust="spacingAndGlyphs">bulge+disk</text>
<text x="522.71" y="82.50" font-size="13.10" fill="#000" stroke="#000" stroke-width="0.3" textLength="61.80" lengthAdjust="spacingAndGlyphs">observed(</text>
<text x="585.87" y="82.50" font-size="13.10" fill="#000" stroke="#000" stroke-width="0.3" textLength="9.10" lengthAdjust="spacingAndGlyphs" font-style="italic">H</text>
<text x="596.04" y="84.63" font-size="9.17" fill="#000" stroke="#000" stroke-width="0.3" textLength="16.28" lengthAdjust="spacingAndGlyphs">160</text>
<text x="614.02" y="82.50" font-size="13.10" fill="#000" stroke="#000" stroke-width="0.3" textLength="3.52" lengthAdjust="spacingAndGlyphs">)</text>
<rect x="355.8" y="25.0" width="273.70" height="249.45" fill="none" stroke="#000" stroke-width="1.1"/>
<line x1="355.50" y1="274.45" x2="355.50" y2="270.45" stroke="#000" stroke-width="1.0"/>
<line x1="364.50" y1="274.45" x2="364.50" y2="272.75" stroke="#000" stroke-width="0.8"/>
<line x1="372.50" y1="274.45" x2="372.50" y2="272.75" stroke="#000" stroke-width="0.8"/>
<line x1="381.50" y1="274.45" x2="381.50" y2="272.75" stroke="#000" stroke-width="0.8"/>
<line x1="390.50" y1="274.45" x2="390.50" y2="272.75" stroke="#000" stroke-width="0.8"/>
<line x1="398.50" y1="274.45" x2="398.50" y2="270.45" stroke="#000" stroke-width="1.0"/>
<line x1="407.50" y1="274.45" x2="407.50" y2="272.75" stroke="#000" stroke-width="0.8"/>
<line x1="415.50" y1="274.45" x2="415.50" y2="272.75" stroke="#000" stroke-width="0.8"/>
<line x1="424.50" y1="274.45" x2="424.50" y2="272.75" stroke="#000" stroke-width="0.8"/>
<line x1="432.50" y1="274.45" x2="432.50" y2="272.75" stroke="#000" stroke-width="0.8"/>
<line x1="441.50" y1="274.45" x2="441.50" y2="270.45" stroke="#000" stroke-width="1.0"/>
<line x1="449.50" y1="274.45" x2="449.50" y2="272.75" stroke="#000" stroke-width="0.8"/>
<line x1="458.50" y1="274.45" x2="458.50" y2="272.75" stroke="#000" stroke-width="0.8"/>
<line x1="466.50" y1="274.45" x2="466.50" y2="272.75" stroke="#000" stroke-width="0.8"/>
<line x1="475.50" y1="274.45" x2="475.50" y2="272.75" stroke="#000" stroke-width="0.8"/>
<line x1="484.50" y1="274.45" x2="484.50" y2="270.45" stroke="#000" stroke-width="1.0"/>
<line x1="492.50" y1="274.45" x2="492.50" y2="272.75" stroke="#000" stroke-width="0.8"/>
<line x1="501.50" y1="274.45" x2="501.50" y2="272.75" stroke="#000" stroke-width="0.8"/>
<line x1="509.50" y1="274.45" x2="509.50" y2="272.75" stroke="#000" stroke-width="0.8"/>
<line x1="518.50" y1="274.45" x2="518.50" y2="272.75" stroke="#000" stroke-width="0.8"/>
<line x1="526.50" y1="274.45" x2="526.50" y2="270.45" stroke="#000" stroke-width="1.0"/>
<line x1="535.50" y1="274.45" x2="535.50" y2="272.75" stroke="#000" stroke-width="0.8"/>
<line x1="543.50" y1="274.45" x2="543.50" y2="272.75" stroke="#000" stroke-width="0.8"/>
<line x1="552.50" y1="274.45" x2="552.50" y2="272.75" stroke="#000" stroke-width="0.8"/>
<line x1="561.50" y1="274.45" x2="561.50" y2="272.75" stroke="#000" stroke-width="0.8"/>
<line x1="569.50" y1="274.45" x2="569.50" y2="270.45" stroke="#000" stroke-width="1.0"/>
<line x1="578.50" y1="274.45" x2="578.50" y2="272.75" stroke="#000" stroke-width="0.8"/>
<line x1="586.50" y1="274.45" x2="586.50" y2="272.75" stroke="#000" stroke-width="0.8"/>
<line x1="595.50" y1="274.45" x2="595.50" y2="272.75" stroke="#000" stroke-width="0.8"/>
<line x1="603.50" y1="274.45" x2="603.50" y2="272.75" stroke="#000" stroke-width="0.8"/>
<line x1="612.50" y1="274.45" x2="612.50" y2="270.45" stroke="#000" stroke-width="1.0"/>
<line x1="620.50" y1="274.45" x2="620.50" y2="272.75" stroke="#000" stroke-width="0.8"/>
<line x1="629.50" y1="274.45" x2="629.50" y2="272.75" stroke="#000" stroke-width="0.8"/>
<line x1="355.50" y1="25.00" x2="355.50" y2="29.00" stroke="#000" stroke-width="1.0"/>
<line x1="370.50" y1="25.00" x2="370.50" y2="26.70" stroke="#000" stroke-width="0.8"/>
<line x1="384.50" y1="25.00" x2="384.50" y2="26.70" stroke="#000" stroke-width="0.8"/>
<line x1="399.50" y1="25.00" x2="399.50" y2="26.70" stroke="#000" stroke-width="0.8"/>
<line x1="413.50" y1="25.00" x2="413.50" y2="26.70" stroke="#000" stroke-width="0.8"/>
<line x1="428.50" y1="25.00" x2="428.50" y2="29.00" stroke="#000" stroke-width="1.0"/>
<line x1="442.50" y1="25.00" x2="442.50" y2="26.70" stroke="#000" stroke-width="0.8"/>
<line x1="457.50" y1="25.00" x2="457.50" y2="26.70" stroke="#000" stroke-width="0.8"/>
<line x1="471.50" y1="25.00" x2="471.50" y2="26.70" stroke="#000" stroke-width="0.8"/>
<line x1="485.50" y1="25.00" x2="485.50" y2="26.70" stroke="#000" stroke-width="0.8"/>
<line x1="500.50" y1="25.00" x2="500.50" y2="29.00" stroke="#000" stroke-width="1.0"/>
<line x1="514.50" y1="25.00" x2="514.50" y2="26.70" stroke="#000" stroke-width="0.8"/>
<line x1="529.50" y1="25.00" x2="529.50" y2="26.70" stroke="#000" stroke-width="0.8"/>
<line x1="543.50" y1="25.00" x2="543.50" y2="26.70" stroke="#000" stroke-width="0.8"/>
<line x1="558.50" y1="25.00" x2="558.50" y2="26.70" stroke="#000" stroke-width="0.8"/>
<line x1="572.50" y1="25.00" x2="572.50" y2="29.00" stroke="#000" stroke-width="1.0"/>
<line x1="587.50" y1="25.00" x2="587.50" y2="26.70" stroke="#000" stroke-width="0.8"/>
<line x1="601.50" y1="25.00" x2="601.50" y2="26.70" stroke="#000" stroke-width="0.8"/>
<line x1="616.50" y1="25.00" x2="616.50" y2="26.70" stroke="#000" stroke-width="0.8"/>
<line x1="355.80" y1="28.50" x2="357.50" y2="28.50" stroke="#000" stroke-width="0.8"/>
<line x1="629.50" y1="28.50" x2="627.80" y2="28.50" stroke="#000" stroke-width="0.8"/>
<line x1="355.80" y1="34.50" x2="357.50" y2="34.50" stroke="#000" stroke-width="0.8"/>
<line x1="629.50" y1="34.50" x2="627.80" y2="34.50" stroke="#000" stroke-width="0.8"/>
<line x1="355.80" y1="41.50" x2="359.80" y2="41.50" stroke="#000" stroke-width="1.0"/>
<line x1="629.50" y1="41.50" x2="625.50" y2="41.50" stroke="#000" stroke-width="1.0"/>
<line x1="355.80" y1="48.50" x2="357.50" y2="48.50" stroke="#000" stroke-width="0.8"/>
<line x1="629.50" y1="48.50" x2="627.80" y2="48.50" stroke="#000" stroke-width="0.8"/>
<line x1="355.80" y1="54.50" x2="357.50" y2="54.50" stroke="#000" stroke-width="0.8"/>
<line x1="629.50" y1="54.50" x2="627.80" y2="54.50" stroke="#000" stroke-width="0.8"/>
<line x1="355.80" y1="61.50" x2="357.50" y2="61.50" stroke="#000" stroke-width="0.8"/>
<line x1="629.50" y1="61.50" x2="627.80" y2="61.50" stroke="#000" stroke-width="0.8"/>
<line x1="355.80" y1="68.50" x2="357.50" y2="68.50" stroke="#000" stroke-width="0.8"/>
<line x1="629.50" y1="68.50" x2="627.80" y2="68.50" stroke="#000" stroke-width="0.8"/>
<line x1="355.80" y1="74.50" x2="359.80" y2="74.50" stroke="#000" stroke-width="1.0"/>
<line x1="629.50" y1="74.50" x2="625.50" y2="74.50" stroke="#000" stroke-width="1.0"/>
<line x1="355.80" y1="81.50" x2="357.50" y2="81.50" stroke="#000" stroke-width="0.8"/>
<line x1="629.50" y1="81.50" x2="627.80" y2="81.50" stroke="#000" stroke-width="0.8"/>
<line x1="355.80" y1="88.50" x2="357.50" y2="88.50" stroke="#000" stroke-width="0.8"/>
<line x1="629.50" y1="88.50" x2="627.80" y2="88.50" stroke="#000" stroke-width="0.8"/>
<line x1="355.80" y1="94.50" x2="357.50" y2="94.50" stroke="#000" stroke-width="0.8"/>
<line x1="629.50" y1="94.50" x2="627.80" y2="94.50" stroke="#000" stroke-width="0.8"/>
<line x1="355.80" y1="101.50" x2="357.50" y2="101.50" stroke="#000" stroke-width="0.8"/>
<line x1="629.50" y1="101.50" x2="627.80" y2="101.50" stroke="#000" stroke-width="0.8"/>
<line x1="355.80" y1="108.50" x2="359.80" y2="108.50" stroke="#000" stroke-width="1.0"/>
<line x1="629.50" y1="108.50" x2="625.50" y2="108.50" stroke="#000" stroke-width="1.0"/>
<line x1="355.80" y1="114.50" x2="357.50" y2="114.50" stroke="#000" stroke-width="0.8"/>
<line x1="629.50" y1="114.50" x2="627.80" y2="114.50" stroke="#000" stroke-width="0.8"/>
<line x1="355.80" y1="121.50" x2="357.50" y2="121.50" stroke="#000" stroke-width="0.8"/>
<line x1="629.50" y1="121.50" x2="627.80" y2="121.50" stroke="#000" stroke-width="0.8"/>
<line x1="355.80" y1="128.50" x2="357.50" y2="128.50" stroke="#000" stroke-width="0.8"/>
<line x1="629.50" y1="128.50" x2="627.80" y2="128.50" stroke="#000" stroke-width="0.8"/>
<line x1="355.80" y1="134.50" x2="357.50" y2="134.50" stroke="#000" stroke-width="0.8"/>
<line x1="629.50" y1="134.50" x2="627.80" y2="134.50" stroke="#000" stroke-width="0.8"/>
<line x1="355.80" y1="141.50" x2="359.80" y2="141.50" stroke="#000" stroke-width="1.0"/>
<line x1="629.50" y1="141.50" x2="625.50" y2="141.50" stroke="#000" stroke-width="1.0"/>
<line x1="355.80" y1="148.50" x2="357.50" y2="148.50" stroke="#000" stroke-width="0.8"/>
<line x1="629.50" y1="148.50" x2="627.80" y2="148.50" stroke="#000" stroke-width="0.8"/>
<line x1="355.80" y1="154.50" x2="357.50" y2="154.50" stroke="#000" stroke-width="0.8"/>
<line x1="629.50" y1="154.50" x2="627.80" y2="154.50" stroke="#000" stroke-width="0.8"/>
<line x1="355.80" y1="161.50" x2="357.50" y2="161.50" stroke="#000" stroke-width="0.8"/>
<line x1="629.50" y1="161.50" x2="627.80" y2="161.50" stroke="#000" stroke-width="0.8"/>
<line x1="355.80" y1="168.50" x2="357.50" y2="168.50" stroke="#000" stroke-width="0.8"/>
<line x1="629.50" y1="168.50" x2="627.80" y2="168.50" stroke="#000" stroke-width="0.8"/>
<line x1="355.80" y1="174.50" x2="359.80" y2="174.50" stroke="#000" stroke-width="1.0"/>
<line x1="629.50" y1="174.50" x2="625.50" y2="174.50" stroke="#000" stroke-width="1.0"/>
<line x1="355.80" y1="181.50" x2="357.50" y2="181.50" stroke="#000" stroke-width="0.8"/>
<line x1="629.50" y1="181.50" x2="627.80" y2="181.50" stroke="#000" stroke-width="0.8"/>
<line x1="355.80" y1="187.50" x2="357.50" y2="187.50" stroke="#000" stroke-width="0.8"/>
<line x1="629.50" y1="187.50" x2="627.80" y2="187.50" stroke="#000" stroke-width="0.8"/>
<line x1="355.80" y1="194.50" x2="357.50" y2="194.50" stroke="#000" stroke-width="0.8"/>
<line x1="629.50" y1="194.50" x2="627.80" y2="194.50" stroke="#000" stroke-width="0.8"/>
<line x1="355.80" y1="201.50" x2="357.50" y2="201.50" stroke="#000" stroke-width="0.8"/>
<line x1="629.50" y1="201.50" x2="627.80" y2="201.50" stroke="#000" stroke-width="0.8"/>
<line x1="355.80" y1="207.50" x2="359.80" y2="207.50" stroke="#000" stroke-width="1.0"/>
<line x1="629.50" y1="207.50" x2="625.50" y2="207.50" stroke="#000" stroke-width="1.0"/>
<line x1="355.80" y1="214.50" x2="357.50" y2="214.50" stroke="#000" stroke-width="0.8"/>
<line x1="629.50" y1="214.50" x2="627.80" y2="214.50" stroke="#000" stroke-width="0.8"/>
<line x1="355.80" y1="221.50" x2="357.50" y2="221.50" stroke="#000" stroke-width="0.8"/>
<line x1="629.50" y1="221.50" x2="627.80" y2="221.50" stroke="#000" stroke-width="0.8"/>
<line x1="355.80" y1="227.50" x2="357.50" y2="227.50" stroke="#000" stroke-width="0.8"/>
<line x1="629.50" y1="227.50" x2="627.80" y2="227.50" stroke="#000" stroke-width="0.8"/>
<line x1="355.80" y1="234.50" x2="357.50" y2="234.50" stroke="#000" stroke-width="0.8"/>
<line x1="629.50" y1="234.50" x2="627.80" y2="234.50" stroke="#000" stroke-width="0.8"/>
<line x1="355.80" y1="241.50" x2="359.80" y2="241.50" stroke="#000" stroke-width="1.0"/>
<line x1="629.50" y1="241.50" x2="625.50" y2="241.50" stroke="#000" stroke-width="1.0"/>
<line x1="355.80" y1="247.50" x2="357.50" y2="247.50" stroke="#000" stroke-width="0.8"/>
<line x1="629.50" y1="247.50" x2="627.80" y2="247.50" stroke="#000" stroke-width="0.8"/>
<line x1="355.80" y1="254.50" x2="357.50" y2="254.50" stroke="#000" stroke-width="0.8"/>
<line x1="629.50" y1="254.50" x2="627.80" y2="254.50" stroke="#000" stroke-width="0.8"/>
<line x1="355.80" y1="261.50" x2="357.50" y2="261.50" stroke="#000" stroke-width="0.8"/>
<line x1="629.50" y1="261.50" x2="627.80" y2="261.50" stroke="#000" stroke-width="0.8"/>
<line x1="355.80" y1="267.50" x2="357.50" y2="267.50" stroke="#000" stroke-width="0.8"/>
<line x1="629.50" y1="267.50" x2="627.80" y2="267.50" stroke="#000" stroke-width="0.8"/>
<line x1="355.80" y1="274.50" x2="359.80" y2="274.50" stroke="#000" stroke-width="1.0"/>
<line x1="629.50" y1="274.50" x2="625.50" y2="274.50" stroke="#000" stroke-width="1.0"/>
<text x="338.41" y="46.38" font-size="13.10" fill="#000" stroke="#000" stroke-width="0.3" textLength="15.40" lengthAdjust="spacingAndGlyphs">20</text>
<text x="338.42" y="79.64" font-size="13.10" fill="#000" stroke="#000" stroke-width="0.3" textLength="15.19" lengthAdjust="spacingAndGlyphs">21</text>
<text x="338.43" y="112.90" font-size="13.10" fill="#000" stroke="#000" stroke-width="0.3" textLength="15.10" lengthAdjust="spacingAndGlyphs">22</text>
<text x="338.42" y="146.16" font-size="13.10" fill="#000" stroke="#000" stroke-width="0.3" textLength="15.28" lengthAdjust="spacingAndGlyphs">23</text>
<text x="338.41" y="179.42" font-size="13.10" fill="#000" stroke="#000" stroke-width="0.3" textLength="15.39" lengthAdjust="spacingAndGlyphs">24</text>
<text x="338.42" y="212.68" font-size="13.10" fill="#000" stroke="#000" stroke-width="0.3" textLength="15.16" lengthAdjust="spacingAndGlyphs">25</text>
<text x="338.41" y="245.94" font-size="13.10" fill="#000" stroke="#000" stroke-width="0.3" textLength="15.52" lengthAdjust="spacingAndGlyphs">26</text>
<text x="338.42" y="279.20" font-size="13.10" fill="#000" stroke="#000" stroke-width="0.3" textLength="15.31" lengthAdjust="spacingAndGlyphs">27</text>
<text x="346.14" y="285.30" font-size="13.10" fill="#000" stroke="#000" stroke-width="0.3" textLength="19.31" lengthAdjust="spacingAndGlyphs">0.0</text>
<text x="388.85" y="285.30" font-size="13.10" fill="#000" stroke="#000" stroke-width="0.3" textLength="19.14" lengthAdjust="spacingAndGlyphs">2.5</text>
<text x="431.80" y="285.30" font-size="13.10" fill="#000" stroke="#000" stroke-width="0.3" textLength="19.18" lengthAdjust="spacingAndGlyphs">5.0</text>
<text x="474.48" y="285.30" font-size="13.10" fill="#000" stroke="#000" stroke-width="0.3" textLength="19.04" lengthAdjust="spacingAndGlyphs">7.5</text>
<text x="513.25" y="285.30" font-size="13.10" fill="#000" stroke="#000" stroke-width="0.3" textLength="27.24" lengthAdjust="spacingAndGlyphs">10.0</text>
<text x="556.03" y="285.30" font-size="13.10" fill="#000" stroke="#000" stroke-width="0.3" textLength="27.01" lengthAdjust="spacingAndGlyphs">12.5</text>
<text x="598.78" y="285.30" font-size="13.10" fill="#000" stroke="#000" stroke-width="0.3" textLength="27.24" lengthAdjust="spacingAndGlyphs">15.0</text>
<text x="346.14" y="20.90" font-size="13.10" fill="#000" stroke="#000" stroke-width="0.3" textLength="19.31" lengthAdjust="spacingAndGlyphs">0.0</text>
<text x="418.45" y="20.90" font-size="13.10" fill="#000" stroke="#000" stroke-width="0.3" textLength="19.07" lengthAdjust="spacingAndGlyphs">0.5</text>
<text x="490.78" y="20.90" font-size="13.10" fill="#000" stroke="#000" stroke-width="0.3" textLength="19.27" lengthAdjust="spacingAndGlyphs">1.0</text>
<text x="563.09" y="20.90" font-size="13.10" fill="#000" stroke="#000" stroke-width="0.3" textLength="19.03" lengthAdjust="spacingAndGlyphs">1.5</text>
<text x="421.08" y="299.60" font-size="13.10" fill="#000" stroke="#000" stroke-width="0.3" textLength="143.27" lengthAdjust="spacingAndGlyphs">major axis radius [kpc]</text>
<text x="410.83" y="9.60" font-size="13.10" fill="#000" stroke="#000" stroke-width="0.3" textLength="163.58" lengthAdjust="spacingAndGlyphs">major axis radius [arcsec]</text>
<g transform="translate(333.80,211.22) rotate(-90)">
<text x="0.12" y="0.00" font-size="13.10" fill="#000" stroke="#000" stroke-width="0.3" textLength="7.50" lengthAdjust="spacingAndGlyphs" font-style="italic">&#956;</text>
<text x="8.17" y="2.13" font-size="9.17" fill="#000" stroke="#000" stroke-width="0.3" textLength="16.28" lengthAdjust="spacingAndGlyphs">160</text>
<text x="29.01" y="0.00" font-size="13.10" fill="#000" stroke="#000" stroke-width="0.3" textLength="32.42" lengthAdjust="spacingAndGlyphs">[mag</text>
<text x="63.83" y="0.00" font-size="13.10" fill="#000" stroke="#000" stroke-width="0.3" textLength="40.16" lengthAdjust="spacingAndGlyphs">arcsec</text>
<text x="104.93" y="-4.98" font-size="9.17" fill="#000" stroke="#000" stroke-width="0.3" textLength="12.16" lengthAdjust="spacingAndGlyphs">&#8722;2</text>
<text x="118.90" y="0.00" font-size="13.10" fill="#000" stroke="#000" stroke-width="0.3" textLength="3.62" lengthAdjust="spacingAndGlyphs">]</text>
</g>
</svg></div>
</body></html>
